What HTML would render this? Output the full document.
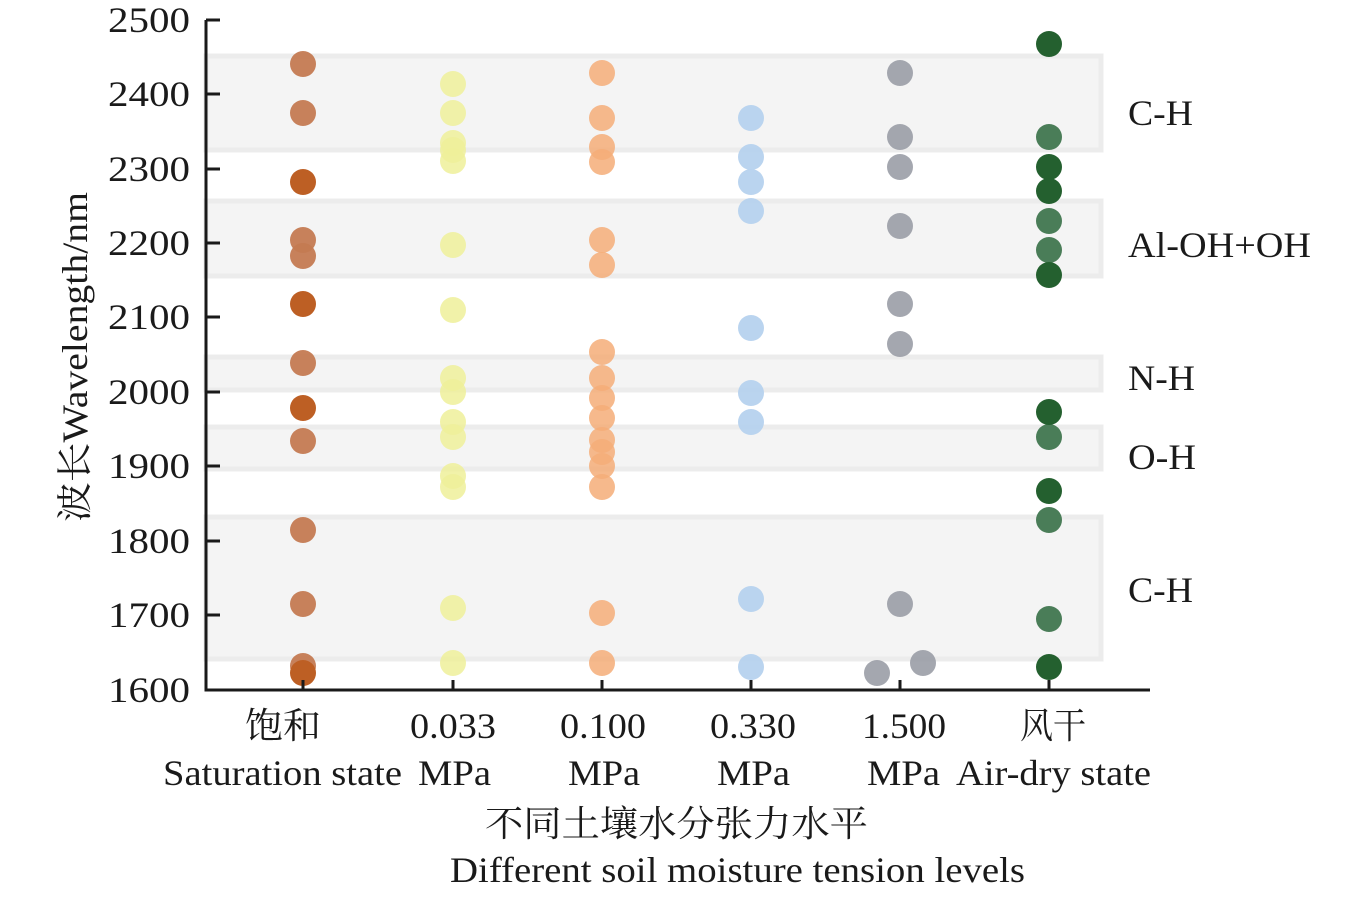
<!DOCTYPE html>
<html><head><meta charset="utf-8"><style>
html,body{margin:0;padding:0;background:#fff;}
svg text{font-family:"Liberation Serif","Noto Serif CJK SC",serif;fill:#1a1a1a;}
</style></head><body>
<svg width="1354" height="896" viewBox="0 0 1354 896" xmlns="http://www.w3.org/2000/svg">
<g fill="#f4f4f4" stroke="#ececec" stroke-width="5">
<rect x="206" y="56" width="895" height="94"/>
<rect x="206" y="201" width="895" height="75"/>
<rect x="206" y="357" width="895" height="33"/>
<rect x="206" y="427" width="895" height="42"/>
<rect x="206" y="517" width="895" height="142"/>
</g>
<g fill="#c47a52" fill-opacity="0.95">
<circle cx="303" cy="64" r="13"/><circle cx="303" cy="113" r="13"/><circle cx="303" cy="240" r="13"/><circle cx="303" cy="256" r="13"/><circle cx="303" cy="363" r="13"/><circle cx="303" cy="441" r="13"/><circle cx="303" cy="530" r="13"/><circle cx="303" cy="604" r="13"/><circle cx="303" cy="666" r="13"/>
</g>
<g fill="#bd5f24">
<circle cx="303" cy="182" r="13"/><circle cx="303" cy="304" r="13"/><circle cx="303" cy="408" r="13"/><circle cx="303" cy="673" r="13"/>
</g>
<g fill="#eef09a" fill-opacity="0.85">
<circle cx="453" cy="84" r="13"/><circle cx="453" cy="113" r="13"/><circle cx="453" cy="143" r="13"/><circle cx="453" cy="150" r="13"/><circle cx="453" cy="161" r="13"/><circle cx="453" cy="245" r="13"/><circle cx="453" cy="310" r="13"/><circle cx="453" cy="378" r="13"/><circle cx="453" cy="392" r="13"/><circle cx="453" cy="422" r="13"/><circle cx="453" cy="437" r="13"/><circle cx="453" cy="476" r="13"/><circle cx="453" cy="487" r="13"/><circle cx="453" cy="608" r="13"/><circle cx="453" cy="663" r="13"/>
</g>
<g fill="#f5ad78" fill-opacity="0.85">
<circle cx="602" cy="73" r="13"/><circle cx="602" cy="118" r="13"/><circle cx="602" cy="147" r="13"/><circle cx="602" cy="162" r="13"/><circle cx="602" cy="240" r="13"/><circle cx="602" cy="265" r="13"/><circle cx="602" cy="352" r="13"/><circle cx="602" cy="378" r="13"/><circle cx="602" cy="398" r="13"/><circle cx="602" cy="418" r="13"/><circle cx="602" cy="440" r="13"/><circle cx="602" cy="452" r="13"/><circle cx="602" cy="466" r="13"/><circle cx="602" cy="487" r="13"/><circle cx="602" cy="613" r="13"/><circle cx="602" cy="663" r="13"/>
</g>
<g fill="#b6d2ee" fill-opacity="0.95">
<circle cx="751" cy="118" r="13"/><circle cx="751" cy="157" r="13"/><circle cx="751" cy="182" r="13"/><circle cx="751" cy="211" r="13"/><circle cx="751" cy="328" r="13"/><circle cx="751" cy="393" r="13"/><circle cx="751" cy="422" r="13"/><circle cx="751" cy="599" r="13"/><circle cx="751" cy="667" r="13"/>
</g>
<g fill="#9a9da6" fill-opacity="0.9">
<circle cx="900" cy="73" r="13"/><circle cx="900" cy="137" r="13"/><circle cx="900" cy="167" r="13"/><circle cx="900" cy="226" r="13"/><circle cx="900" cy="304" r="13"/><circle cx="900" cy="344" r="13"/><circle cx="900" cy="604" r="13"/><circle cx="877" cy="673" r="13"/><circle cx="923" cy="663" r="13"/>
</g>
<g fill="#4a7d58">
<circle cx="1049" cy="137" r="13"/><circle cx="1049" cy="221" r="13"/><circle cx="1049" cy="250" r="13"/><circle cx="1049" cy="437" r="13"/><circle cx="1049" cy="520" r="13"/><circle cx="1049" cy="619" r="13"/>
</g>
<g fill="#24602f">
<circle cx="1049" cy="44" r="13"/><circle cx="1049" cy="167" r="13"/><circle cx="1049" cy="191" r="13"/><circle cx="1049" cy="275" r="13"/><circle cx="1049" cy="412" r="13"/><circle cx="1049" cy="491" r="13"/><circle cx="1049" cy="667" r="13"/>
</g>
<g stroke="#1a1a1a" stroke-width="3" fill="none">
<polyline points="206,20 206,690 1150,690"/>
<path d="M206 20h14M206 94h14M206 169h14M206 243h14M206 317h14M206 392h14M206 466h14M206 541h14M206 615h14"/>
<path d="M303 690v-10M453 690v-10M602 690v-10M751 690v-10M900 690v-10M1049 690v-10"/>
</g>
<g font-size="36" lengthAdjust="spacingAndGlyphs">
<text x="108" y="32" textLength="82" lengthAdjust="spacingAndGlyphs">2500</text>
<text x="108" y="106" textLength="82" lengthAdjust="spacingAndGlyphs">2400</text>
<text x="108" y="181" textLength="82" lengthAdjust="spacingAndGlyphs">2300</text>
<text x="108" y="255" textLength="82" lengthAdjust="spacingAndGlyphs">2200</text>
<text x="108" y="329" textLength="82" lengthAdjust="spacingAndGlyphs">2100</text>
<text x="108" y="404" textLength="82" lengthAdjust="spacingAndGlyphs">2000</text>
<text x="108" y="478" textLength="82" lengthAdjust="spacingAndGlyphs">1900</text>
<text x="108" y="553" textLength="82" lengthAdjust="spacingAndGlyphs">1800</text>
<text x="108" y="627" textLength="82" lengthAdjust="spacingAndGlyphs">1700</text>
<text x="108" y="702" textLength="82" lengthAdjust="spacingAndGlyphs">1600</text>
</g>
<text transform="translate(87,522) rotate(-90)" font-size="36" textLength="330" lengthAdjust="spacingAndGlyphs">波长Wavelength/nm</text>
<g font-size="36">
<text x="1128" y="125" textLength="65" lengthAdjust="spacingAndGlyphs">C-H</text>
<text x="1128" y="257" textLength="183" lengthAdjust="spacingAndGlyphs">Al-OH+OH</text>
<text x="1128" y="390" textLength="67" lengthAdjust="spacingAndGlyphs">N-H</text>
<text x="1128" y="469" textLength="68" lengthAdjust="spacingAndGlyphs">O-H</text>
<text x="1128" y="602" textLength="65" lengthAdjust="spacingAndGlyphs">C-H</text>
</g>
<g font-size="36">
<text x="245" y="738" textLength="76" lengthAdjust="spacingAndGlyphs">饱和</text>
<text x="410" y="738" textLength="86" lengthAdjust="spacingAndGlyphs">0.033</text>
<text x="560" y="738" textLength="86" lengthAdjust="spacingAndGlyphs">0.100</text>
<text x="710" y="738" textLength="86" lengthAdjust="spacingAndGlyphs">0.330</text>
<text x="862" y="738" textLength="84" lengthAdjust="spacingAndGlyphs">1.500</text>
<text x="1020" y="738" textLength="66" lengthAdjust="spacingAndGlyphs">风干</text>
<text x="163" y="785" textLength="239" lengthAdjust="spacingAndGlyphs">Saturation state</text>
<text x="418" y="785" textLength="73" lengthAdjust="spacingAndGlyphs">MPa</text>
<text x="568" y="785" textLength="72" lengthAdjust="spacingAndGlyphs">MPa</text>
<text x="717" y="785" textLength="73" lengthAdjust="spacingAndGlyphs">MPa</text>
<text x="867" y="785" textLength="73" lengthAdjust="spacingAndGlyphs">MPa</text>
<text x="956" y="785" textLength="195" lengthAdjust="spacingAndGlyphs">Air-dry state</text>
<text x="485" y="836" textLength="383" lengthAdjust="spacingAndGlyphs">不同土壤水分张力水平</text>
<text x="450" y="882" textLength="575" lengthAdjust="spacingAndGlyphs">Different soil moisture tension levels</text>
</g>
</svg>
</body></html>
